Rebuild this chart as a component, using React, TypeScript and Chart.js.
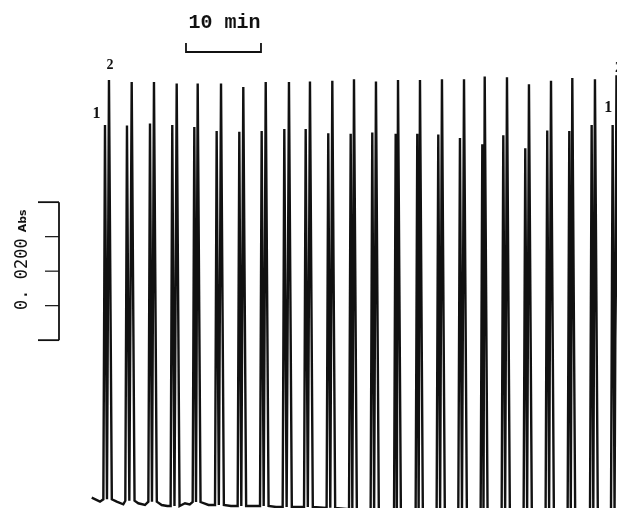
import React, { useEffect, useRef } from "react";
import { Chart, registerables } from "chart.js";

Chart.register(...registerables);

// Retention times (min) and absorbance of the two peaks of each injection
const peak1Times = [9.2, 12.13, 15.2, 18.17, 21.11, 24.09, 27.11, 30.09, 33.11, 35.96, 38.97, 41.96, 44.84, 47.96, 50.84, 53.64, 56.53, 59.51, 62.31, 65.24, 68.17, 71.11, 74.09, 76.89];
const peak1Heights = [0.0548, 0.0547, 0.055, 0.0548, 0.0545, 0.0539, 0.0538, 0.0539, 0.0542, 0.0542, 0.0536, 0.0535, 0.0537, 0.0535, 0.0535, 0.0534, 0.0529, 0.052, 0.0533, 0.0514, 0.054, 0.0539, 0.0548, 0.0548];
const peak2Times = [9.73, 12.76, 15.73, 18.76, 21.56, 24.67, 27.64, 30.63, 33.73, 36.53, 39.51, 42.4, 45.33, 48.27, 51.2, 54.13, 57.07, 59.83, 62.8, 65.73, 68.67, 71.51, 74.53, 77.4];
const peak2Heights = [0.0613, 0.061, 0.061, 0.0608, 0.0608, 0.0608, 0.0603, 0.061, 0.061, 0.0611, 0.0612, 0.0614, 0.0611, 0.0613, 0.0613, 0.0614, 0.0614, 0.0618, 0.0617, 0.0607, 0.0612, 0.0616, 0.0614, 0.062];
// Baseline level under each pair of peaks (Abs)
const pairBase = [0.00054, 0.00033, 0.00019, -0.00043, 0.00014, -0.00029, -0.00043, -0.00043, -0.00058, -0.00058, -0.0007, -0.0009, -0.001, -0.001, -0.001, -0.001, -0.001, -0.001, -0.001, -0.001, -0.001, -0.001, -0.001, -0.001];
// Baseline samples between injections
const gapTimes = [7.43, 8.53, 10.76, 11.64, 13.64, 14.53, 16.76, 17.5, 19.87, 20.5, 23.0, 26.0, 29.0, 32.0];
const gapValues = [0.00077, 0.00019, 0.00019, -0.00019, -0.00004, -0.00029, -0.00029, -0.00043, -0.00004, -0.0002, -0.00029, -0.00043, -0.00043, -0.00058];

// Scale bars
const timeBar = [20, 30];
const timeBarLabel = "10 min";
const absBarTicks = [0.0236, 0.0286, 0.0336, 0.0386, 0.0436];
const absLabelValue = "0. 0200";
const absLabelUnit = "Abs";
const peakLabels = ["1", "2"];

export default function App() {
  const ref = useRef<HTMLCanvasElement | null>(null);

  useEffect(() => {
    document.body.style.margin = "0";
    const canvas = ref.current;
    if (!canvas) return;

    const pts: { x: number; y: number }[] = [];
    for (let i = 0; i < peak1Times.length; i++) {
      const t1 = peak1Times[i];
      const t2 = peak2Times[i];
      const b = pairBase[i];
      pts.push({ x: t1 - 0.22, y: b });
      pts.push({ x: t1, y: peak1Heights[i] });
      pts.push({ x: (t1 + t2) / 2, y: b });
      pts.push({ x: t2, y: peak2Heights[i] });
      pts.push({ x: t2 + 0.38, y: b });
    }
    for (let i = 0; i < gapTimes.length; i++) pts.push({ x: gapTimes[i], y: gapValues[i] });
    pts.sort((a, b) => a.x - b.x);

    const annot = {
      id: "annot",
      afterDraw(chart: any) {
        const ctx = chart.ctx;
        const xs = chart.scales.x;
        const ys = chart.scales.y;
        ctx.save();
        ctx.strokeStyle = "#111";
        ctx.fillStyle = "#111";
        ctx.lineWidth = 1.8;

        // time scale bar
        const bx0 = xs.getPixelForValue(timeBar[0]);
        const bx1 = xs.getPixelForValue(timeBar[1]);
        ctx.beginPath();
        ctx.moveTo(bx0, 43);
        ctx.lineTo(bx0, 52);
        ctx.lineTo(bx1, 52);
        ctx.lineTo(bx1, 43);
        ctx.stroke();
        ctx.font = "bold 20px 'Liberation Mono', monospace";
        ctx.textAlign = "center";
        ctx.textBaseline = "alphabetic";
        ctx.fillText(timeBarLabel, (bx0 + bx1) / 2 + 1, 28);

        // absorbance scale bar
        const barX = 59;
        const yTop = ys.getPixelForValue(absBarTicks[absBarTicks.length - 1]);
        const yBot = ys.getPixelForValue(absBarTicks[0]);
        ctx.beginPath();
        ctx.moveTo(barX, yTop);
        ctx.lineTo(barX, yBot);
        ctx.stroke();
        absBarTicks.forEach((v, i) => {
          const y = ys.getPixelForValue(v);
          const end = i === 0 || i === absBarTicks.length - 1;
          ctx.beginPath();
          ctx.moveTo(end ? 38 : 45, y);
          ctx.lineTo(barX, y);
          ctx.lineWidth = end ? 1.8 : 1.2;
          ctx.stroke();
        });

        // rotated absorbance label
        ctx.save();
        ctx.translate(27, 310);
        ctx.rotate(-Math.PI / 2);
        ctx.textAlign = "left";
        ctx.font = "17px 'DejaVu Sans Mono', monospace";
        ctx.fillText(absLabelValue, 0, 0);
        const w = ctx.measureText(absLabelValue).width;
        ctx.font = "bold 11px 'DejaVu Sans', sans-serif";
        ctx.fillText(absLabelUnit, w + 6, -1);
        ctx.restore();

        // peak labels
        ctx.textAlign = "center";
        const n = peak1Times.length - 1;
        ctx.font = "bold 14px 'Liberation Serif', serif";
        ctx.fillText(peakLabels[1], xs.getPixelForValue(peak2Times[0]) + 1, 69);
        ctx.fillText(peakLabels[1], xs.getPixelForValue(peak2Times[n]) + 2, 72);
        ctx.font = "bold 16px 'Liberation Serif', serif";
        ctx.fillText(peakLabels[0], xs.getPixelForValue(peak1Times[0]) - 8.5, 118);
        ctx.fillText(peakLabels[0], xs.getPixelForValue(peak1Times[n]) - 4.5, 112);
        ctx.restore();
      },
    };

    const chart = new Chart(canvas, {
      type: "line",
      data: {
        datasets: [
          {
            data: pts,
            borderColor: "#111",
            borderWidth: 2.4,
            pointRadius: 0,
            tension: 0,
            fill: false,
          },
        ],
      },
      options: {
        animation: false,
        responsive: false,
        devicePixelRatio: 1,
        parsing: false,
        layout: { padding: 0 },
        plugins: { legend: { display: false }, tooltip: { enabled: false } },
        scales: {
          x: { type: "linear", min: -4.8, max: 77.47, display: false },
          y: { type: "linear", min: -0.000725, max: 0.0729, display: false },
        },
      },
      plugins: [annot],
    } as any);
    return () => chart.destroy();
  }, []);

  return (
    <div style={{ width: 617, height: 508, background: "#fff" }}>
      <canvas ref={ref} width={617} height={508} style={{ display: "block" }} />
    </div>
  );
}
